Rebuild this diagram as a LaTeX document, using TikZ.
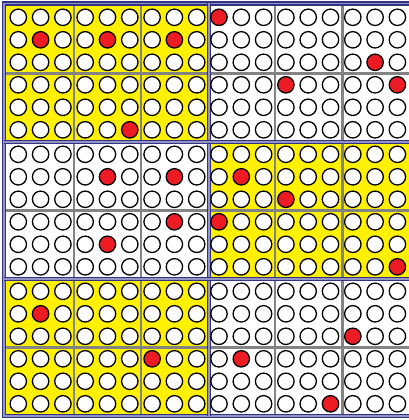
\documentclass[tikz,border=0pt]{standalone}
\usepackage{xcolor}
\usepackage{tikz}

\definecolor{boardyellow}{HTML}{FFF100}
\definecolor{pegred}{HTML}{ED1C24}
\definecolor{framenavy}{HTML}{333386}
\definecolor{framelav}{HTML}{9494C4}
\definecolor{gridgrey}{HTML}{838383}

% red pegs: column/row on the 18x18 board
\foreach \cx/\ry in {1/1,4/1,7/1,5/5,9/0,16/2,12/3,17/3,4/7,7/7,7/9,4/10,
    10/7,12/8,9/9,17/11,1/13,6/15,15/14,10/15,14/17}{%
  \expandafter\xdef\csname red-\cx-\ry\endcsname{1}}

\begin{document}
\begin{tikzpicture}[
        x=1pt, y=-1pt,
        peg/.style={draw, circle, minimum size=16.4pt, inner sep=0pt, line width=1.3pt},
        subline/.style={draw=gridgrey, line width=2.2pt},
        frame/.style={draw=framenavy, line width=1.6pt, double=framelav, double distance=1.6pt}
    ]
        \useasboundingbox (0,0) rectangle (408,420);

        % Yellow blocks
        \fill[boardyellow] (4,3.5) rectangle (209,142);
        \fill[boardyellow] (209,142) rectangle (412.5,279);
        \fill[boardyellow] (4,279) rectangle (209,416);

        % Sub-block lines
        \foreach \x in {74.1,141,275.2,342.4}
            \draw[subline] (\x,3.5) -- (\x,416);
        \foreach \y in {73.5,210.5,347.5}
            \draw[subline] (4,\y) -- (412.5,\y);

        % Block frames
        \draw[frame] (4,3.5) rectangle (412.5,416);
        \draw[frame] (209,3.5) -- (209,416);
        \draw[frame] (4,142) -- (412.5,142);
        \draw[frame] (4,279) -- (412.5,279);

        % Pegs
        \foreach \cx in {0,...,17}
        \foreach \ry in {0,...,17}{
            \pgfmathsetmacro\px{18.3+22.3*\cx}
            \pgfmathsetmacro\py{17.3+22.5*mod(\ry,6)+137*floor(\ry/6)}
            \ifcsname red-\cx-\ry\endcsname\def\pegfill{pegred}\else\def\pegfill{white}\fi
            \node (peg-\cx-\ry) [peg, fill=\pegfill] at (\px,\py) {};
        }
    \end{tikzpicture}
\end{document}
